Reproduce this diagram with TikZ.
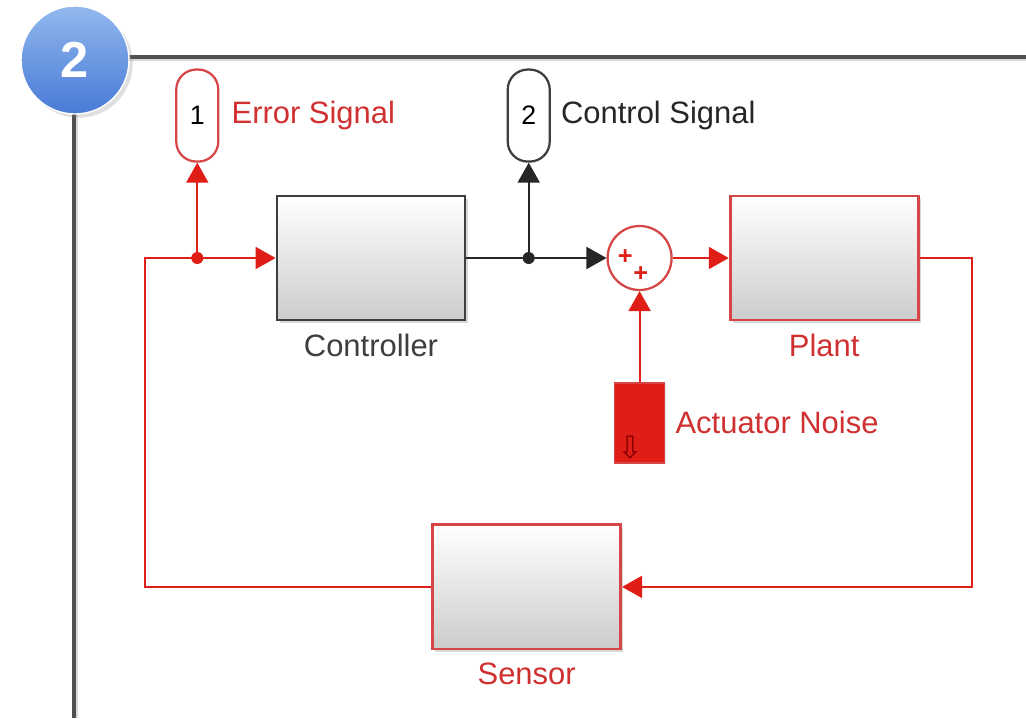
\documentclass[tikz,border=0pt]{standalone}
\usepackage{fontspec}
\setmainfont{Liberation Sans}
\newfontfamily\symfont{DejaVu Sans}
\usetikzlibrary{arrows.meta,positioning,shadows,calc}
\definecolor{sigred}{RGB}{224,30,24}
\definecolor{boxred}{RGB}{214,70,70}
\definecolor{txtred}{RGB}{208,48,48}
\definecolor{boxgray}{RGB}{62,62,62}
\definecolor{framegray}{RGB}{80,80,80}
\definecolor{ballhi}{RGB}{146,184,238}
\definecolor{balllo}{RGB}{72,122,214}
\tikzset{
  blkbox/.style={rectangle,draw=boxgray,line width=2pt,top color=white,bottom color=black!20,
    minimum width=4.7cm,minimum height=3.1cm,inner sep=0pt,
    drop shadow={opacity=0.3,shadow xshift=2pt,shadow yshift=-2pt}},
  redbox/.style={blkbox,draw=boxred},
  outport/.style={rectangle,rounded corners=0.5cm,draw=boxgray,line width=1.6pt,fill=white,
    minimum width=1.05cm,minimum height=2.3cm,inner sep=0pt,font=\fontsize{19}{23}\selectfont},
  sumnode/.style={circle,draw=boxred,line width=1.6pt,fill=white,minimum size=1.6cm,inner sep=0pt},
  lbl/.style={font=\fontsize{22}{26}\selectfont,inner sep=0pt},
  branch/.style={circle,minimum size=0.3cm,inner sep=0pt},
  sig/.style={line width=1.4pt,draw=sigred,-{Triangle[length=0.5cm,width=0.55cm]}},
  sigk/.style={line width=1.4pt,draw=black!85,-{Triangle[length=0.5cm,width=0.55cm]}},
}

\begin{document}
\begin{tikzpicture}[x=0.025cm,y=-0.025cm]
  \path[use as bounding box,fill=white] (0,0) rectangle (1026,718);
  \draw[black!15,line width=2pt] (77,718) |- (1026,60);
  \draw[framegray,line width=2.4pt] (74,718) |- (1026,57);
  \node[circle,minimum size=2.7cm,top color=ballhi,bottom color=balllo,draw=white,line width=1pt,
    text=white,font=\fontsize{36}{40}\selectfont\bfseries,drop shadow={opacity=0.25}] (num) at (75,60) {2};

  \node[blkbox] (ctrl) at (371,258) {};
  \node[sumnode, right=3.5cm of ctrl] (sum) {};
  \node[redbox, right=1.4cm of sum] (plant) {};
  \node[rectangle,fill=sigred,draw=boxred,line width=1pt,minimum width=1.25cm,minimum height=2cm,
    drop shadow={opacity=0.25,shadow xshift=1pt,shadow yshift=-1pt},below=2.275cm of sum] (noise) {};
  \node[redbox, below=5.05cm of ctrl, xshift=3.89cm] (sensor) {};

  \node[lbl,text=boxgray,below=0.3cm of ctrl] (ctrllbl) {Controller};
  \node[lbl,text=txtred,below=0.3cm of plant] (plantlbl) {Plant};
  \node[lbl,text=txtred,below=0.3cm of sensor] (sensorlbl) {Sensor};
  \node[lbl,text=txtred,right=0.25cm of noise] (noiselbl) {Actuator Noise};

  \node[text=sigred,font=\fontsize{18}{18}\selectfont\bfseries,inner sep=0pt] (p1) at ([shift={(-0.36cm,0.02cm)}]sum.center) {+};
  \node[text=sigred,font=\fontsize{18}{18}\selectfont\bfseries,inner sep=0pt] (p2) at ([shift={(0.03cm,-0.4cm)}]sum.center) {+};
  \node[text=red!55!black,font=\symfont\fontsize{22}{22}\selectfont,inner sep=0pt] (nicon)
    at ([shift={(0.42cm,0.4cm)}]noise.south west) {⇩};

  \node[branch,fill=sigred,left=1.8cm of ctrl.west] (ebr) {};
  \node[outport,draw=boxred,above=2.225cm of ebr] (err) {1};
  \node[lbl,text=txtred,right=0.3cm of err] (errlbl) {Error Signal};
  \node[branch,fill=black!85,right=1.4cm of ctrl.east] (cbr) {};
  \node[outport,above=2.225cm of cbr] (cout) {2};
  \node[lbl,text=black!85,right=0.25cm of cout] (coutlbl) {Control Signal};

  \coordinate[left=1.15cm of ebr] (fbl);
  \coordinate[right=1.3cm of plant.east] (fbr);

  \draw[sig] (sensor.west) -| (fbl) -- (ctrl.west);
  \draw[sig] (ebr) -- (err.south);
  \draw[sigk] (ctrl.east) -- (sum.west);
  \draw[sigk] (cbr) -- (cout.south);
  \draw[sig] (sum.east) -- (plant.west);
  \draw[sig] (noise.north) -- (sum.south);
  \draw[sig] (plant.east) -- (fbr) |- (sensor.east);
\end{tikzpicture}
\end{document}
